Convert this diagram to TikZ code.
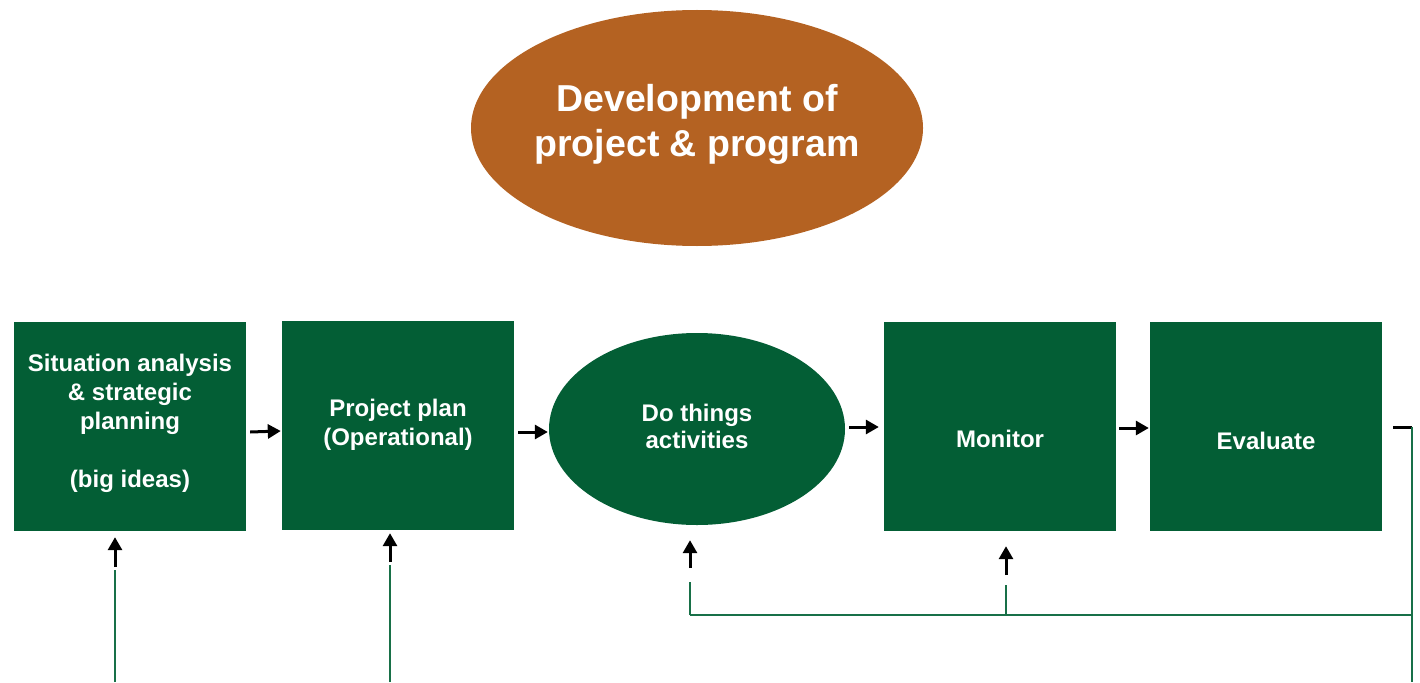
\documentclass[tikz,border=0pt]{standalone}
\usepackage{fontspec}
\setmainfont{Liberation Sans}
\usetikzlibrary{shapes.geometric,arrows.meta}
\definecolor{dgreen}{HTML}{035E35}
\definecolor{lgreen}{HTML}{187048}
\definecolor{brown}{HTML}{B46222}
\tikzset{
  box/.style={fill=dgreen,draw=none,minimum width=232pt,minimum height=209pt,inner sep=0pt},
  oval/.style={ellipse,fill=dgreen,draw=none,minimum width=296pt,minimum height=192pt,inner sep=0pt},
  txt/.style={text=white,font=\fontsize{24}{29}\selectfont\bfseries,align=center,inner sep=0pt},
  arr/.style={black,line width=3pt,-{Triangle[length=13pt,width=14pt]}},
  fb/.style={lgreen,line width=2.7pt},
  blk/.style={black,line width=3pt}
}
\begin{document}
\begin{tikzpicture}[x=1pt,y=-1pt]
\useasboundingbox (0,0) rectangle (1420,682);
\node[ellipse,fill=brown,draw=none,minimum width=452pt,minimum height=236pt,inner sep=0pt] (dev) at (697,128) {};
\node[txt,font=\fontsize{37.5}{45}\selectfont\bfseries] (devt) at ([yshift=4pt]dev.center) {Development of\\project \& program};
\node[box] (b1) at (130,426.5) {};
\node[txt] (b1t) at ([yshift=3pt]b1.center) {Situation analysis\\\& strategic\\planning\\[29pt](big ideas)};
\node[box] (b2) at (398,425.5) {};
\node[txt] (b2t) at ([yshift=1pt]b2.center) {Project plan\\(Operational)};
\node[oval] (do) at (697,429) {};
\node[txt,font=\fontsize{24}{27}\selectfont\bfseries] (dot) at ([yshift=2.5pt]do.center) {Do things\\activities};
\node[box] (b3) at (1000,426.5) {};
\node[txt] (b3t) at ([yshift=-12.5pt]b3.center) {Monitor};
\node[box] (b4) at (1266,426.5) {};
\node[txt] (b4t) at ([yshift=-14pt]b4.center) {Evaluate};
% forward arrows
\draw[arr] ([xshift=4pt,yshift=-5.5pt]b1.east) -- ([xshift=-1pt,yshift=-5.5pt]b2.west);
\draw[arr] ([xshift=4pt,yshift=-6.5pt]b2.east) -- ([xshift=-1pt,yshift=-3pt]do.west);
\draw[arr] ([xshift=4pt,yshift=2pt]do.east) -- ([xshift=-5pt,yshift=-0.5pt]b3.west);
\draw[arr] ([xshift=3pt,yshift=-1.5pt]b3.east) -- ([xshift=-1pt,yshift=-1.5pt]b4.west);
% feedback loop
\coordinate (r1) at (1393,427);
\coordinate (r2) at (1412,427);
\coordinate (rb) at (1412,682);
\coordinate (h1) at (690,615);
\coordinate (h2) at (1412,615);
\coordinate (m1) at (1006,615);
\draw[blk] (r1) -- (r2);
\draw[fb] (r2) -- (rb);
\draw[fb] (h1) -- (h2);
\draw[fb] (h1) -- (690,582);
\draw[arr] (690,568) -- ([yshift=-15pt]do.south -| 690,0);
\draw[fb] (m1) -- (1006,585);
\draw[arr] (1006,575) -- ([yshift=-15pt]b3.south -| 1006,0);
\draw[fb] (115,682) -- (115,570);
\draw[arr] (115,567) -- ([yshift=-6pt]b1.south -| 115,0);
\draw[fb] (390,682) -- (390,565);
\draw[arr] (390,562) -- ([yshift=-3pt]b2.south -| 390,0);
\end{tikzpicture}
\end{document}
